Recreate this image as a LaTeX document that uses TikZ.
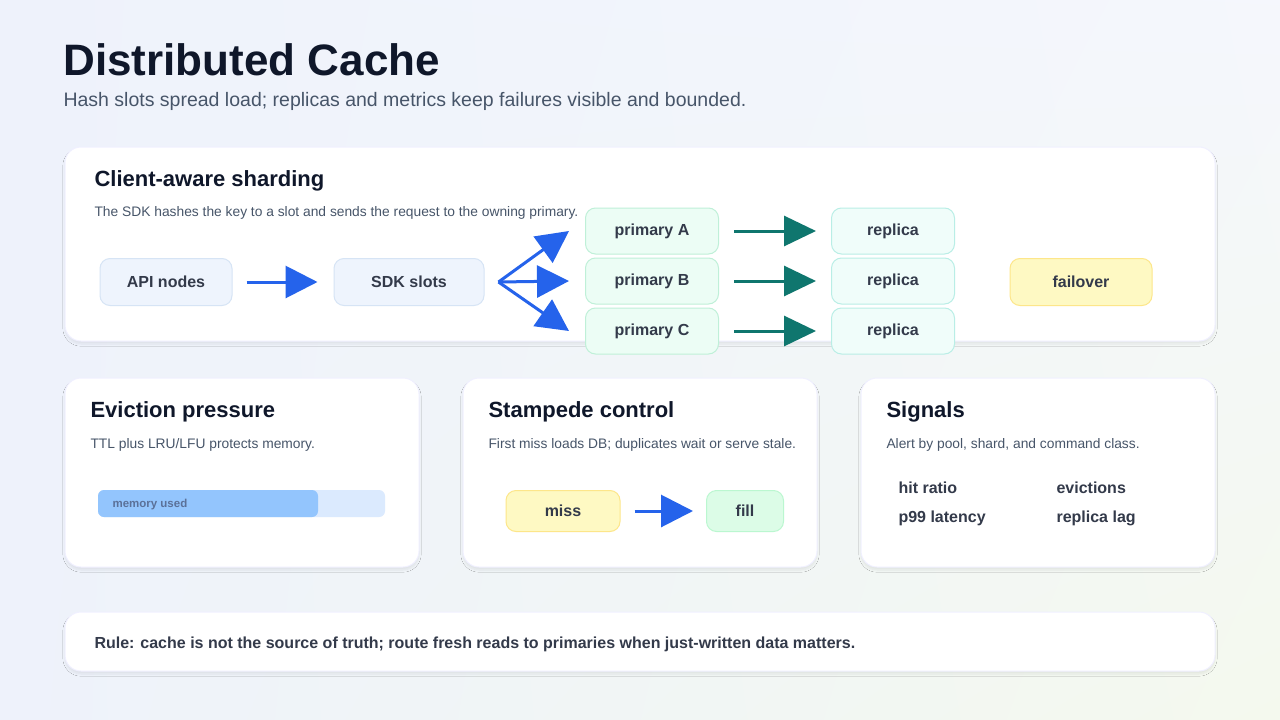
\documentclass[tikz,border=0pt]{standalone}
\usepackage{fontspec}
\setmainfont{Liberation Sans}
\usepackage{xcolor}
\usetikzlibrary{arrows.meta,shadows.blur,shadings}
\definecolor{ink}{HTML}{0f172a}
\definecolor{muted}{HTML}{475569}
\definecolor{flowblue}{HTML}{2563eb}
\definecolor{flowteal}{HTML}{0f766e}
\definecolor{apiline}{HTML}{d6e4f5}
\definecolor{apifill}{HTML}{eef4fd}
\definecolor{primline}{HTML}{bff0d8}
\definecolor{primfill}{HTML}{ecfdf5}
\definecolor{repline}{HTML}{b9eee6}
\definecolor{repfill}{HTML}{f0fdfa}
\definecolor{warnline}{HTML}{fde68a}
\definecolor{warnfill}{HTML}{fef9c3}
\definecolor{okline}{HTML}{bbf7d0}
\definecolor{okfill}{HTML}{dcfce7}
\definecolor{memtrack}{HTML}{dbeafe}
\definecolor{memused}{HTML}{93c5fd}
\definecolor{memtext}{HTML}{5b7199}
\definecolor{bgblue}{HTML}{eef2fb}
\definecolor{bggreen}{HTML}{f4f9ee}

\tikzset{
    card/.style={draw=blue!6, fill=white, rounded corners=16pt, line width=1pt,
        blur shadow={shadow blur steps=6, shadow xshift=0pt, shadow yshift=-3pt, shadow opacity=7}},
    box/.style={draw=#1, rounded corners=10pt, line width=1pt, font=\bfseries\fontsize{16}{19}\selectfont, text=ink!85},
    cardtitle/.style={anchor=west, font=\bfseries\fontsize{22}{26}\selectfont, text=ink},
    carddesc/.style={anchor=west, font=\fontsize{13.8}{16}\selectfont, text=muted},
    metric/.style={anchor=west, font=\bfseries\fontsize{16}{19}\selectfont, text=ink!85},
    bluearrow/.style={draw=flowblue, line width=3pt, -{Triangle[length=32pt,width=32pt]}},
    tealarrow/.style={draw=flowteal, line width=3pt, -{Triangle[length=32pt,width=30pt]}}
}

\begin{document}
\begin{tikzpicture}[x=1pt, y=-1pt]
    % Background
    \shade[upper left=bgblue, upper right=bgblue!60!white, lower left=bgblue, lower right=bggreen] (0,0) rectangle (1280,720);
    \useasboundingbox (0,0) rectangle (1280,720);

    % Heading
    \node[anchor=west, font=\bfseries\fontsize{44}{52}\selectfont, text=ink] (title) at (60,60) {Distributed Cache};
    \node[anchor=west, font=\fontsize{19.5}{23}\selectfont, text=muted] (subtitle) at (60,101) {Hash slots spread load; replicas and metrics keep failures visible and bounded.};

    % Cards
    \draw[card] (65,147) rectangle (1215,341);
    \draw[card] (65,378) rectangle (419,567);
    \draw[card] (463,378) rectangle (817,567);
    \draw[card] (861,378) rectangle (1215,567);
    \draw[card] (65,612) rectangle (1215,671);

    % Client-aware sharding
    \node[cardtitle] (shardtitle) at (91,181) {Client-aware sharding};
    \node[carddesc] (sharddesc) at (91,213) {The SDK hashes the key to a slot and sends the request to the owning primary.};

    \node[box=apiline, fill=apifill, minimum width=132pt, minimum height=47pt] (api) at (166,282) {API nodes};
    \node[box=apiline, fill=apifill, minimum width=150pt, minimum height=47pt] (sdk) at (409,282) {SDK slots};
    \foreach \n/\y in {A/231, B/281, C/331} {
        \node[box=primline, fill=primfill, minimum width=133pt, minimum height=46pt] (prim\n) at (652,\y) {primary \n};
        \node[box=repline, fill=repfill, minimum width=123pt, minimum height=46pt] (rep\n) at (893,\y) {replica};
        \draw[tealarrow] ([xshift=15pt]prim\n.east) -- ([xshift=-15pt]rep\n.west);
    }
    \node[box=warnline, fill=warnfill, minimum width=142pt, minimum height=47pt] (failover) at (1081,282) {failover};

    \draw[bluearrow] ([xshift=14pt]api.east) -- ([xshift=-16pt]sdk.west);
    \coordinate (fork) at ([xshift=14pt]sdk.east);
    \foreach \n in {A,B,C}
        \draw[bluearrow] (fork) -- ([xshift=-16pt]prim\n.west);

    % Eviction pressure
    \node[cardtitle] (evtitle) at (87,412) {Eviction pressure};
    \node[carddesc] (evdesc) at (87,445) {TTL plus LRU/LFU protects memory.};
    \fill[memtrack, rounded corners=6pt] (98,490) rectangle (385,517);
    \fill[memused, rounded corners=6pt] (98,490) rectangle (318,517);
    \node[anchor=west, font=\bfseries\fontsize{11.5}{13}\selectfont, text=memtext] (memlabel) at (109,505) {memory used};

    % Stampede control
    \node[cardtitle] (sttitle) at (485,412) {Stampede control};
    \node[carddesc] (stdesc) at (485,445) {First miss loads DB; duplicates wait or serve stale.};
    \node[box=warnline, fill=warnfill, minimum width=114pt, minimum height=41pt] (miss) at (563,511) {miss};
    \node[box=okline, fill=okfill, minimum width=77pt, minimum height=41pt] (fill) at (745,511) {fill};
    \draw[bluearrow] ([xshift=14pt]miss.east) -- ([xshift=-13pt]fill.west);

    % Signals
    \node[cardtitle] (sigtitle) at (883,412) {Signals};
    \node[carddesc] (sigdesc) at (883,445) {Alert by pool, shard, and command class.};
    \node[metric] (hit) at (895,488) {hit ratio};
    \node[metric] (evict) at (1053,488) {evictions};
    \node[metric] (p99) at (895,518) {p99 latency};
    \node[metric] (lag) at (1053,518) {replica lag};

    % Rule
    \node[metric] (rule) at (91,644) {Rule: cache is not the source of truth; route fresh reads to primaries when just-written data matters.};
\end{tikzpicture}
\end{document}
